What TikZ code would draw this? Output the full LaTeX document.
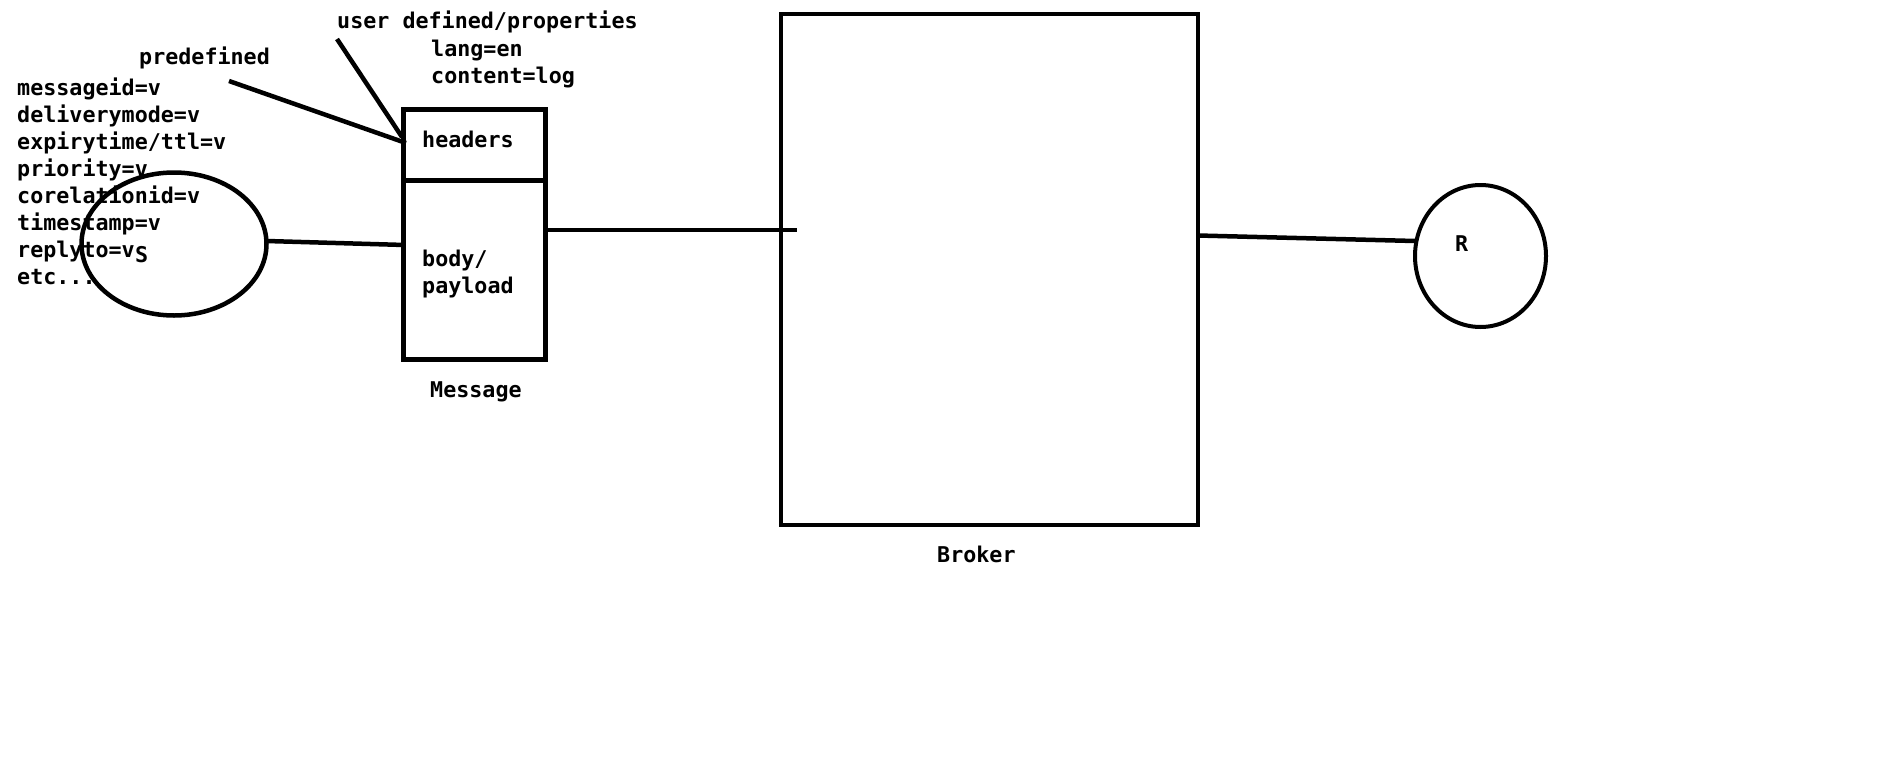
\documentclass[tikz,border=0pt]{standalone}
\usepackage{fontspec}
\setmonofont{DejaVu Sans Mono}
\usepackage{tikz}
\usetikzlibrary{positioning, calc, shapes.geometric}

\begin{document}
\begin{tikzpicture}[x=1pt, y=-1pt, font=\ttfamily\bfseries\fontsize{21.7}{27}\selectfont]
	\tikzstyle{link}=[line width=4.5pt, draw=black]
	\tikzstyle{party}=[ellipse, draw=black, line width=4.5pt, inner sep=0pt, outer sep=0pt]
	\tikzstyle{msgbox}=[rectangle, draw=black, line width=5pt, minimum width=142pt, inner sep=0pt, outer sep=0pt]
	\tikzstyle{tag}=[anchor=base west, inner sep=0pt]

	\useasboundingbox (0,0) rectangle (1900,763);

	% predefined properties of the sender
	\node[tag] (predef) at (139,64) {predefined};
	\foreach \prop [count=\i from 0] in {messageid=v, deliverymode=v, {expirytime/ttl=v}, priority=v, corelationid=v, timestamp=v, replyto=v}{
		\node[tag] (prop\i) at (17, 95 + 27 * \i) {\prop};
	}
	\node[tag] (prop7) at (17,284) {etc...};

	\node[party, minimum width=185pt, minimum height=143pt] (sender) at (174,244) {};
	\node[tag] (sname) at (135,262) {S};

	% message
	\node[tag] (userdef) at (337,28) {user defined/properties};
	\node[tag] (lang) at (431,56) {lang=en};
	\node[tag] (content) at (431,83) {content=log};

	\node[msgbox, minimum height=71pt] (hdr) at (474,145) {};
	\node[msgbox, minimum height=179pt] (body) at (474,270) {};
	\node[tag] (hdrtext) at (422,147) {headers};
	\node[tag] (bodytext) at (422,266) {body/};
	\node[tag] (payload) at (422,293) {payload};
	\node[tag] (msglabel) at (430,397) {Message};

	% broker and receiver
	\node[rectangle, draw=black, line width=4.5pt, minimum width=417pt, minimum height=511pt, inner sep=0pt, outer sep=0pt] (broker) at (989.5,269.5) {};
	\node[tag] (brokerlabel) at (937,562) {Broker};

	\node[party, line width=4pt, minimum width=131pt, minimum height=142pt] (receiver) at (1480.5,256) {};
	\node[tag] (rname) at (1455,251) {R};

	\coordinate (predtail) at (229,81);
	\coordinate (usertail) at (337,39);
	\draw[link] (predtail) -- ($(hdr.west)+(3,-2)$);
	\draw[link] (usertail) -- ($(hdr.west)+(-1,-8)$);
	\draw[link] ($(sender.east)+(0,-3)$) -- ($(body.west)+(2,-25)$);
	\draw[link] ($(body.east)+(2,-40)$) -- ($(broker.west)+(16,-39.5)$);
	\draw[link] ($(broker.east)+(0,-34)$) -- ($(receiver.west)+(0,-15)$);
\end{tikzpicture}
\end{document}
